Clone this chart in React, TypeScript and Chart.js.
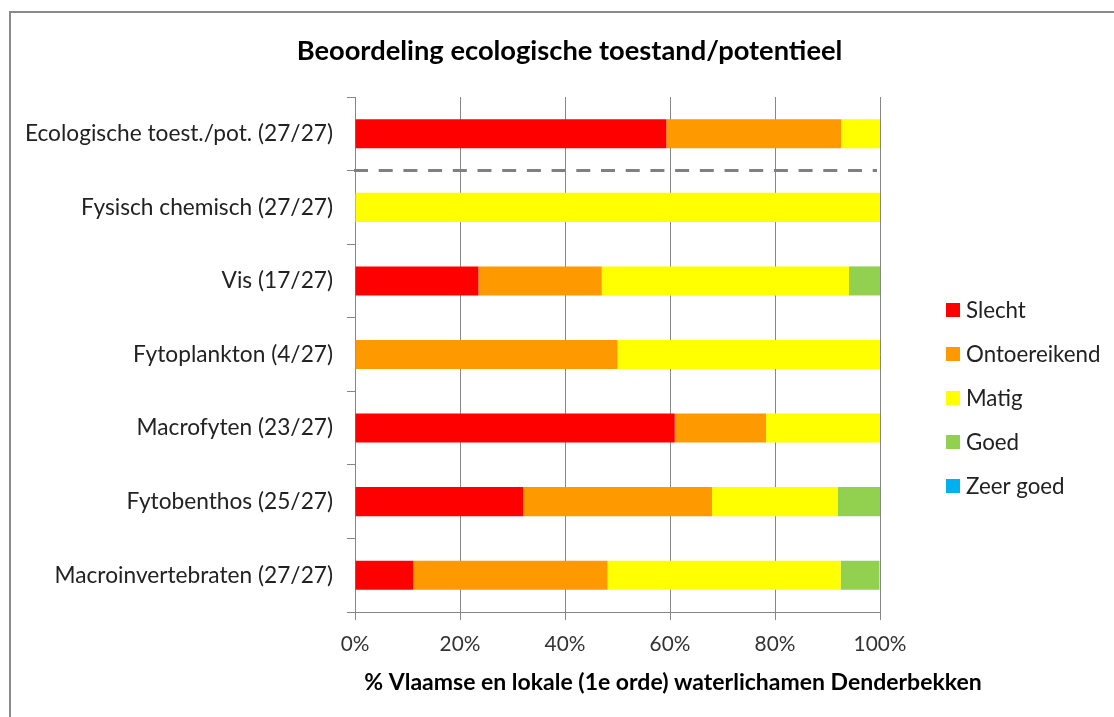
import React, { useEffect, useRef } from "react";
import { Chart, registerables } from "chart.js";

Chart.register(...registerables);

const categories = [
  "Ecologische toest./pot. (27/27)",
  "Fysisch chemisch (27/27)",
  "Vis (17/27)",
  "Fytoplankton (4/27)",
  "Macrofyten (23/27)",
  "Fytobenthos (25/27)",
  "Macroinvertebraten (27/27)",
];
const slecht = [59.3, 0, 23.5, 0, 60.9, 32, 11.1];
const ontoereikend = [33.3, 0, 23.5, 50, 17.4, 36, 37.0];
const matig = [7.4, 100, 47.1, 50, 21.7, 24, 44.4];
const goed = [0, 0, 5.9, 0, 0, 8, 7.4];
const zeerGoed = [0, 0, 0, 0, 0, 0, 0];
const seriesNames = ["Slecht", "Ontoereikend", "Matig", "Goed", "Zeer goed"];
const seriesColors = ["#FF0000", "#FF9900", "#FFFF00", "#92D050", "#00B0F0"];
const xTicks = [0, 20, 40, 60, 80, 100];

const chartTitle = "Beoordeling ecologische toestand/potentieel";
const xTitle = "% Vlaamse en lokale (1e orde) waterlichamen Denderbekken";

const FONT = "Lato, 'Open Sans', sans-serif";
const GRAY = "#868686";

const extrasPlugin = {
  id: "extras",
  afterDatasetsDraw(chart: any) {
    const { ctx, chartArea, scales } = chart;
    const y = scales.y.getPixelForValue(0.5);
    ctx.save();
    ctx.setLineDash([14, 10.7]);
    ctx.lineWidth = 3;
    ctx.strokeStyle = "#808080";
    ctx.beginPath();
    ctx.moveTo(chartArea.left - 1, y);
    ctx.lineTo(chartArea.right - 3, y);
    ctx.stroke();
    ctx.restore();
  },
  afterDraw(chart: any) {
    const { ctx } = chart;
    ctx.save();
    ctx.textBaseline = "middle";
    // chart title
    ctx.font = `bold 27.3px ${FONT}`;
    ctx.fillStyle = "#000";
    ctx.textAlign = "center";
    ctx.fillText(chartTitle, 569.5, 51);
    // x-axis title
    ctx.font = `bold 23px ${FONT}`;
    ctx.fillText(xTitle, 673, 683);
    // legend
    ctx.font = `22.3px ${FONT}`;
    ctx.textAlign = "left";
    chart.data.datasets.forEach((ds: any, i: number) => {
      const cy = 310 + i * 44;
      ctx.fillStyle = ds.backgroundColor;
      ctx.fillRect(946, cy - 7, 14, 14);
      ctx.fillStyle = "#222";
      ctx.fillText(ds.label, 966, cy + 1);
    });
    ctx.restore();
  },
};

export default function App() {
  const ref = useRef<HTMLCanvasElement>(null);
  useEffect(() => {
    if (!ref.current) return;
    const series = [slecht, ontoereikend, matig, goed, zeerGoed];
    const chart = new Chart(ref.current, {
      type: "bar",
      data: {
        labels: categories,
        datasets: series.map((d, i) => ({
          label: seriesNames[i],
          data: d,
          backgroundColor: seriesColors[i],
          borderWidth: 0,
          categoryPercentage: 1,
          barPercentage: 0.395,
        })),
      },
      options: {
        indexAxis: "y",
        animation: false,
        responsive: false,
        devicePixelRatio: 1,
        layout: { padding: { left: 0, right: 234, top: 97, bottom: 0 } },
        plugins: {
          legend: { display: false },
          tooltip: { enabled: false },
          title: { display: false },
        },
        scales: {
          x: {
            stacked: true,
            min: 0,
            max: 100,
            afterBuildTicks: (scale: any) => {
              scale.ticks = xTicks.map((v) => ({ value: v }));
            },
            afterFit: (scale: any) => {
              scale.height = 105;
            },
            ticks: {
              callback: (v: any) => v + "%",
              color: "#333",
              font: { family: FONT, size: 20.8 },
              padding: 12,
            },
            grid: { color: GRAY, lineWidth: 1, drawTicks: true, tickLength: 8 },
            border: { display: true, color: GRAY, width: 1 },
          },
          y: {
            stacked: true,
            afterFit: (scale: any) => {
              scale.width = 355;
            },
            ticks: {
              color: "#222",
              font: { family: FONT, size: 22.7 },
              padding: 14,
            },
            grid: {
              offset: true,
              drawOnChartArea: false,
              drawTicks: true,
              tickLength: 8,
              color: GRAY,
            },
            border: { display: true, color: GRAY, width: 1 },
          },
        },
      } as any,
      plugins: [extrasPlugin],
    });
    return () => chart.destroy();
  }, []);

  return (
    <div style={{ position: "fixed", left: 0, top: 0, width: 1114, height: 717, overflow: "hidden", background: "#fff" }}>
      <canvas ref={ref} width={1114} height={717} style={{ position: "absolute", left: 0, top: 0, width: 1114, height: 717 }} />
      <div
        style={{
          position: "absolute",
          left: 9,
          top: 11,
          width: 1105,
          height: 706,
          borderTop: "2px solid #8a8a8a",
          borderLeft: "2px solid #8a8a8a",
          boxSizing: "border-box",
          pointerEvents: "none",
        }}
      />
    </div>
  );
}
